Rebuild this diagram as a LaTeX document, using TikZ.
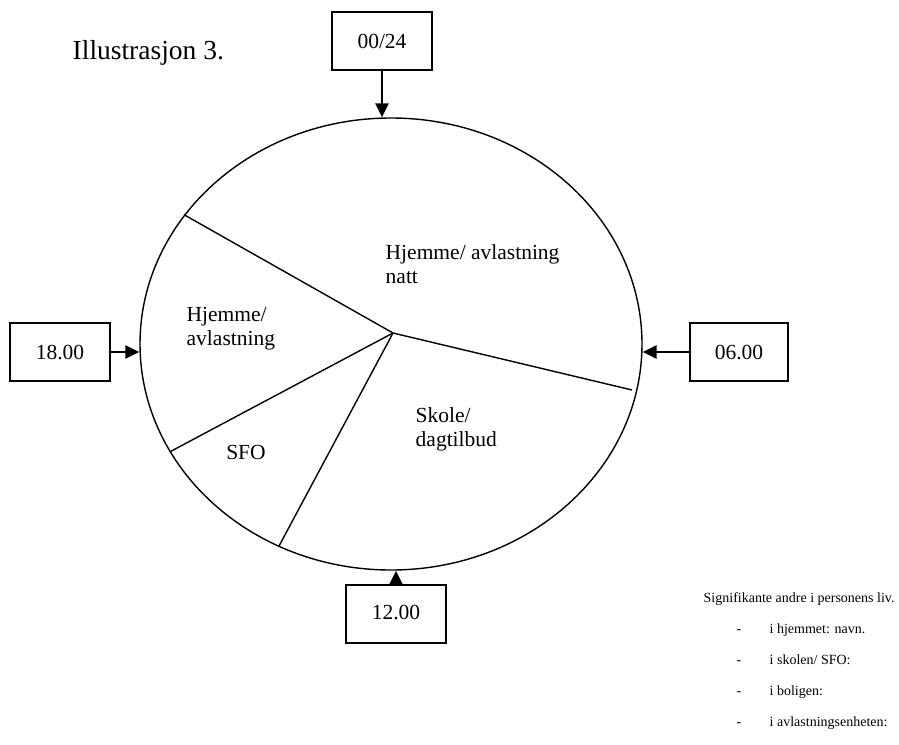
\documentclass[tikz,border=0pt]{standalone}
\usepackage{fontspec}
\setmainfont{Liberation Serif}
\usetikzlibrary{arrows.meta,shapes.geometric}

\begin{document}
\begin{tikzpicture}[x=1pt,y=-1pt,line width=1.4pt,inner sep=0pt,
	hour/.style={draw,minimum width=100pt,text height=36pt,text depth=22pt,font=\fontsize{21.5}{24}\selectfont},
	slice/.style={align=left,font=\fontsize{21.5}{24}\selectfont},
	note/.style={font=\fontsize{14}{17}\selectfont},
	tick/.style={line width=2.6pt,-{Triangle[length=14pt,width=13pt]}}]
	\useasboundingbox (0,0) rectangle (899,744);

	\node [anchor=base west,font=\fontsize{27.5}{33}\selectfont] (title) at (72,59) {Illustrasjon 3.};

	% the day
	\node [draw,ellipse,minimum width=502pt,minimum height=452pt] (day) at (391,344) {};
	\coordinate (hub) at (393,333);
	\coordinate (dawn) at (632,390);
	\foreach \a in {148.6,206.3,241.9}{
		\draw (hub) -- (day.\a);
	}
	\draw (hub) -- (dawn);

	\node [slice,anchor=west] (night) at (385,264) {Hjemme/ avlastning\\natt};
	\node [slice,anchor=west] (home) at (186,328.5) {Hjemme/\\avlastning};
	\node [slice] (sfo) at (246,452) {SFO};
	\node [slice,anchor=west] (school) at (415,429) {Skole/\\dagtilbud};

	% hours
	\node [hour] (midnight) at (382,41) {00/24};
	\node [hour] (evening) at (60,352) {18.00};
	\node [hour,minimum width=98pt] (morning) at (739,352) {06.00};
	\node [hour,text height=34pt,text depth=24pt] (noon) at (396,614) {12.00};

	\draw [tick] (midnight) -- (midnight |- day.north);
	\draw [tick] (evening) -- (evening -| day.west);
	\draw [tick] (morning) -- (morning -| day.east);
	\draw [tick] (noon) -- (noon |- day.south);

	% people
	\node [note,anchor=base west] (others) at (703,602) {Signifikante andre i personens liv.};
	\foreach [count=\n] \t in {i hjemmet: navn.,{i skolen/ SFO:},i boligen:,i avlastningsenheten:}{
		\node [note,anchor=base west] (dash \n) at ([xshift=33pt,yshift=-31pt*\n]others.base west) {-};
		\node [note,anchor=base west] (who \n) at ([xshift=66pt,yshift=-31pt*\n]others.base west) {\t};
	}
\end{tikzpicture}
\end{document}
